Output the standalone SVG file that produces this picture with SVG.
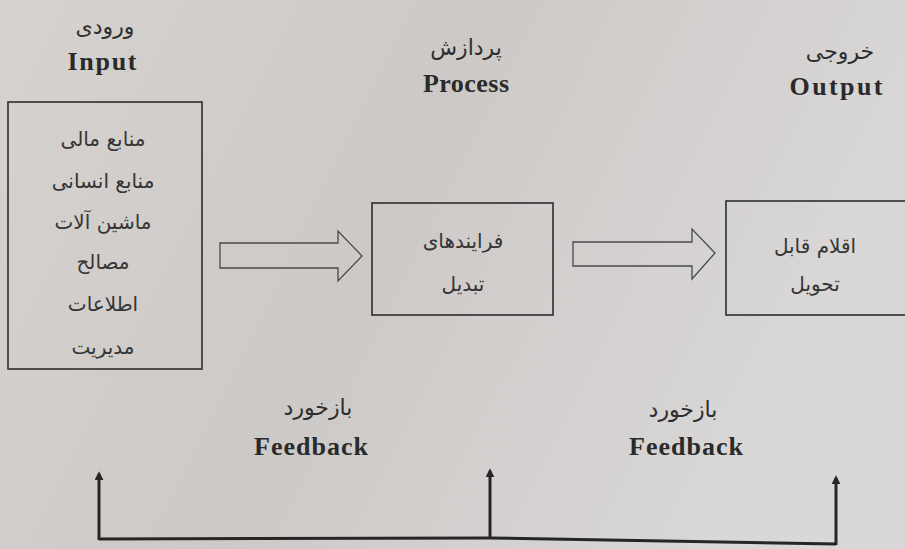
<svg xmlns="http://www.w3.org/2000/svg" width="905" height="549" viewBox="0 0 905 549">
  <defs>
    <linearGradient id="bg" x1="0" y1="0" x2="1" y2="0.3">
      <stop offset="0" stop-color="#d6d2cf"/>
      <stop offset="0.5" stop-color="#cdc9c7"/>
      <stop offset="1" stop-color="#d9d7d7"/>
    </linearGradient>
    <marker id="ah" viewBox="0 0 10 10" refX="7" refY="5" markerWidth="3" markerHeight="3" orient="auto" markerUnits="strokeWidth">
      <path d="M0,0 L10,5 L0,10 Z" fill="#262626"/>
    </marker>
    <style>
      .box { fill: none; stroke: #2e2e2e; stroke-width: 1.6; }
      .big { fill: none; stroke: #4a4a4a; stroke-width: 1.3; stroke-linejoin: miter; }
      .fa { font-family: "DejaVu Sans", sans-serif; font-size: 20px; fill: #353535; text-anchor: middle; }
      .fah { font-family: "DejaVu Sans", sans-serif; font-size: 22px; fill: #2e2e2e; text-anchor: middle; }
      .en { font-family: "Liberation Serif", serif; font-weight: bold; font-size: 26px; fill: #2a2a2a; text-anchor: middle; }
      .fb { fill: none; stroke: #262626; stroke-width: 3; }
    </style>
  </defs>
  <rect x="0" y="0" width="905" height="549" fill="url(#bg)"/>

  <g id="input">
    <text class="fah" x="105" y="34">ورودی</text>
    <text class="en" x="102" y="70" textLength="69" lengthAdjust="spacing">Input</text>
    <rect class="box" x="8" y="102" width="194" height="267"/>
    <text class="fa" x="103" y="146">منابع مالی</text>
    <text class="fa" x="103" y="188">منابع انسانی</text>
    <text class="fa" x="103" y="229">ماشین آلات</text>
    <text class="fa" x="103" y="269">مصالح</text>
    <text class="fa" x="103" y="311">اطلاعات</text>
    <text class="fa" x="103" y="354">مدیریت</text>
  </g>

  <g id="process">
    <text class="fah" x="466" y="55">پردازش</text>
    <text class="en" x="466" y="92" textLength="86" lengthAdjust="spacing">Process</text>
    <rect class="box" x="372" y="203" width="181" height="112"/>
    <text class="fa" x="463" y="248">فرایندهای</text>
    <text class="fa" x="463" y="291">تبدیل</text>
  </g>

  <g id="output">
    <text class="fah" x="840" y="59">خروجی</text>
    <text class="en" x="836" y="95" textLength="93" lengthAdjust="spacing">Output</text>
    <rect class="box" x="726" y="201" width="190" height="114"/>
    <text class="fa" x="815" y="253">اقلام قابل</text>
    <text class="fa" x="815" y="291">تحویل</text>
  </g>

  <g id="feedback-left">
    <text class="fah" x="318" y="415">بازخورد</text>
    <text class="en" x="311" y="455" textLength="114" lengthAdjust="spacing">Feedback</text>
  </g>
  <g id="feedback-right">
    <text class="fah" x="683" y="417">بازخورد</text>
    <text class="en" x="686" y="455" textLength="114" lengthAdjust="spacing">Feedback</text>
  </g>

  <g id="connectors">
    <polygon class="big" points="220,243 338,243 338,231 362,256 338,281 338,268 220,268"/>
    <polygon class="big" points="573,242 692,242 692,229 715,253 692,279 692,266 573,266"/>
    <polyline class="fb" points="99,539 490,538 836,544"/>
    <line class="fb" x1="99" y1="540" x2="99" y2="474" marker-end="url(#ah)"/>
    <line class="fb" x1="490" y1="538" x2="490" y2="471" marker-end="url(#ah)"/>
    <line class="fb" x1="836" y1="545" x2="836" y2="478" marker-end="url(#ah)"/>
  </g>
</svg>
